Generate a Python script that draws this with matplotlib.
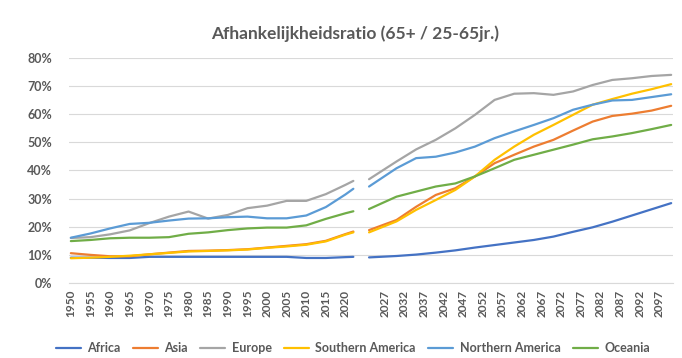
import numpy as np
import matplotlib
matplotlib.use("Agg")
import matplotlib.pyplot as plt
from matplotlib.ticker import PercentFormatter

plt.rcParams['font.family'] = ['Lato', 'DejaVu Sans']

# categories on the x axis: history, three empty slots, projection
hist_years = list(range(1950, 2023))
proj_years = list(range(2023, 2101))
categories = [str(y) for y in hist_years] + ['', '', ''] + [str(y) for y in proj_years]

# values (%)
left_years = [1950, 1955, 1960, 1965, 1970, 1975, 1980, 1985, 1990, 1995,
              2000, 2005, 2010, 2015, 2020, 2022]
right_years = [2023, 2030, 2035, 2040, 2045, 2050, 2055, 2060, 2065, 2070,
               2075, 2080, 2085, 2090, 2095, 2100]

africa_hist = [9.0, 9.0, 8.9, 8.9, 9.3, 9.3, 9.3, 9.3, 9.3, 9.3, 9.3, 9.3, 8.9, 8.9, 9.2, 9.3]
asia_hist = [10.6, 10.0, 9.5, 9.5, 10.2, 10.8, 11.4, 11.5, 11.7, 12.0, 12.6, 13.2, 13.8, 15.0, 17.4, 18.3]
europe_hist = [16.0, 16.3, 17.3, 18.7, 21.3, 23.6, 25.4, 22.9, 24.2, 26.6, 27.5, 29.2, 29.2, 31.6, 34.9, 36.3]
south_am_hist = [8.8, 9.0, 9.3, 9.7, 10.2, 10.7, 11.2, 11.4, 11.6, 11.9, 12.5, 13.0, 13.6, 14.8, 17.2, 18.0]
north_am_hist = [16.1, 17.6, 19.4, 21.0, 21.4, 22.2, 22.9, 23.0, 23.4, 23.6, 23.0, 23.0, 24.0, 27.0, 31.5, 33.5]
oceania_hist = [14.9, 15.3, 15.9, 16.1, 16.1, 16.3, 17.5, 18.0, 18.8, 19.4, 19.7, 19.7, 20.5, 22.8, 24.8, 25.5]

africa_proj = [9.1, 9.6, 10.1, 10.8, 11.6, 12.6, 13.5, 14.4, 15.3, 16.5, 18.2, 19.8, 21.8, 24.0, 26.2, 28.4]
asia_proj = [18.8, 22.4, 27.1, 31.3, 33.7, 37.9, 42.6, 45.6, 48.5, 50.9, 54.2, 57.4, 59.4, 60.2, 61.3, 63.0]
europe_proj = [36.9, 43.2, 47.5, 50.9, 55.0, 59.8, 65.1, 67.3, 67.5, 66.9, 68.1, 70.4, 72.2, 72.8, 73.6, 74.0]
south_am_proj = [18.0, 21.9, 26.0, 29.5, 33.1, 37.9, 43.8, 48.5, 52.7, 56.2, 59.8, 63.4, 65.4, 67.3, 68.9, 70.7]
north_am_proj = [34.3, 40.8, 44.4, 44.9, 46.4, 48.5, 51.5, 53.9, 56.2, 58.6, 61.6, 63.4, 64.9, 65.1, 66.1, 67.1]
oceania_proj = [26.3, 30.7, 32.5, 34.3, 35.4, 37.9, 40.8, 43.8, 45.6, 47.4, 49.2, 51.1, 52.1, 53.3, 54.7, 56.2]

series = [
    ("Africa", africa_hist, africa_proj, "#4472C4"),
    ("Asia", asia_hist, asia_proj, "#ED7D31"),
    ("Europe", europe_hist, europe_proj, "#A5A5A5"),
    ("Southern America", south_am_hist, south_am_proj, "#FFC000"),
    ("Northern America", north_am_hist, north_am_proj, "#5B9BD5"),
    ("Oceania", oceania_hist, oceania_proj, "#70AD47"),
]

x_left = [categories.index(str(y)) for y in left_years]
x_right = [categories.index(str(y)) for y in right_years]

fig = plt.figure(figsize=(6.82, 3.58), dpi=100)
ax = fig.add_axes([0.101, 0.2095, 0.886, 0.6285])

for name, hist, proj, color in series:
    xs = x_left + [np.nan] + x_right
    ys = [v / 100 for v in hist] + [np.nan] + [v / 100 for v in proj]
    ax.plot(xs, ys, color=color, lw=1.6, label=name, solid_capstyle='round')

ax.set_ylim(0, 0.8)
ax.set_xlim(-0.5, len(categories) - 0.5)
ax.set_yticks(np.arange(0, 0.81, 0.1))
ax.yaxis.set_major_formatter(PercentFormatter(1.0, decimals=0))
ax.grid(axis='y', color='#D9D9D9', lw=0.8)
ax.set_axisbelow(True)

tick_pos = [i for i, c in enumerate(categories) if c and i % 5 == 0]
ax.set_xticks(tick_pos)
ax.set_xticklabels([categories[i] for i in tick_pos], rotation=90)

for s in ['top', 'right', 'left']:
    ax.spines[s].set_visible(False)
ax.spines['bottom'].set_color('#D9D9D9')
ax.tick_params(axis='both', length=0, colors='#595959', labelsize=9)
ax.tick_params(axis='x', labelsize=8.5, pad=5)
ax.tick_params(axis='y', pad=12)
for lbl in ax.get_xticklabels() + ax.get_yticklabels():
    lbl.set_fontweight('bold')

fig.suptitle("Afhankelijkheidsratio (65+ / 25-65jr.)", x=0.52, y=0.93,
             fontsize=12.5, fontweight='bold', color='#595959')

leg = ax.legend(loc='center', bbox_to_anchor=(0.47, -0.29), ncol=6,
                frameon=False, fontsize=9, handlelength=2.0, columnspacing=1.0,
                handletextpad=0.5, borderaxespad=0, borderpad=0)
for t in leg.get_texts():
    t.set_color('#595959')
    t.set_fontweight('bold')

fig.savefig("out.png", dpi=100)
